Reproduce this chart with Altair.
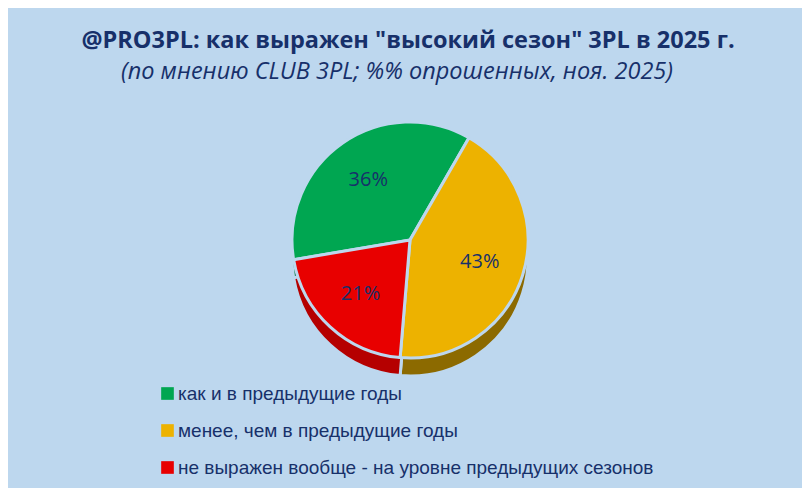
import altair as alt
import pandas as pd
import math

# ---- data ----
categories = [
    "как и в предыдущие годы",
    "менее, чем в предыдущие годы",
    "не выражен вообще - на уровне предыдущих сезонов",
]
values = [36, 43, 21]
labels = ["36%", "43%", "21%"]
slice_order = [3, 1, 2]

title_text = '@PRO3PL: как выражен "высокий сезон" 3PL в 2025 г.'
subtitle_text = "(по мнению CLUB 3PL; %% опрошенных, ноя. 2025)"

top_colors = ["#00A651", "#EDB200", "#E80000"]
side_colors = ["#00723A", "#8C6A00", "#B50000"]

df = pd.DataFrame({"cat": categories, "val": values, "lbl": labels, "ord": slice_order})

BG = "#BDD7EE"
NAVY = "#17306A"
CX, CY, R, DEPTH = 402, 232, 118, 18
start = math.pi / 6
theta_scale = alt.Scale(range=[start, start + 2 * math.pi])

base = alt.Chart(df)

theta = alt.Theta("val:Q", stack=True, scale=theta_scale)
order = alt.Order("ord:Q", sort="ascending")

side = base.mark_arc(radius=R, stroke=BG, strokeWidth=3).encode(
    theta=theta,
    order=order,
    x=alt.value(CX),
    y=alt.value(CY + DEPTH),
    color=alt.Color("cat:N", scale=alt.Scale(domain=categories, range=side_colors), legend=None),
)

top = base.mark_arc(radius=R, stroke=BG, strokeWidth=3).encode(
    theta=theta,
    order=order,
    x=alt.value(CX),
    y=alt.value(CY),
    color=alt.Color(
        "cat:N",
        scale=alt.Scale(domain=categories, range=top_colors),
        legend=alt.Legend(
            title=None,
            orient="none",
            legendX=150,
            legendY=376,
            symbolType="square",
            symbolSize=160,
            symbolStrokeWidth=0,
            labelFont="Liberation Sans",
            labelFontSize=19,
            labelColor=NAVY,
            rowPadding=17,
            labelOffset=1,
            padding=0,
            labelLimit=650,
        ),
    ),
)

text = base.mark_text(
    radius=R * 0.62, font="Open Sans", fontSize=20, color=NAVY
).encode(
    theta=theta,
    order=order,
    x=alt.value(CX),
    y=alt.value(CY),
    text="lbl:N",
)

one = pd.DataFrame({"t": [title_text], "s": [subtitle_text]})
title = alt.Chart(one).mark_text(
    font="Open Sans", fontSize=23.5, fontWeight="bold", color=NAVY, align="center", baseline="alphabetic"
).encode(x=alt.value(400), y=alt.value(40), text="t:N")
subtitle = alt.Chart(one).mark_text(
    font="Open Sans", fontSize=23.5, fontStyle="italic", color=NAVY, align="center", baseline="alphabetic"
).encode(x=alt.value(389), y=alt.value(71), text="s:N")

chart = (
    alt.layer(side, top, text, title, subtitle)
    .resolve_scale(color="independent")
    .properties(width=794, height=480, background=BG, padding=0, autosize=alt.AutoSizeParams(type="none"))
    .configure_view(stroke=None)
)

chart.save("out.html", embed_options={"renderer": "svg", "actions": False})
